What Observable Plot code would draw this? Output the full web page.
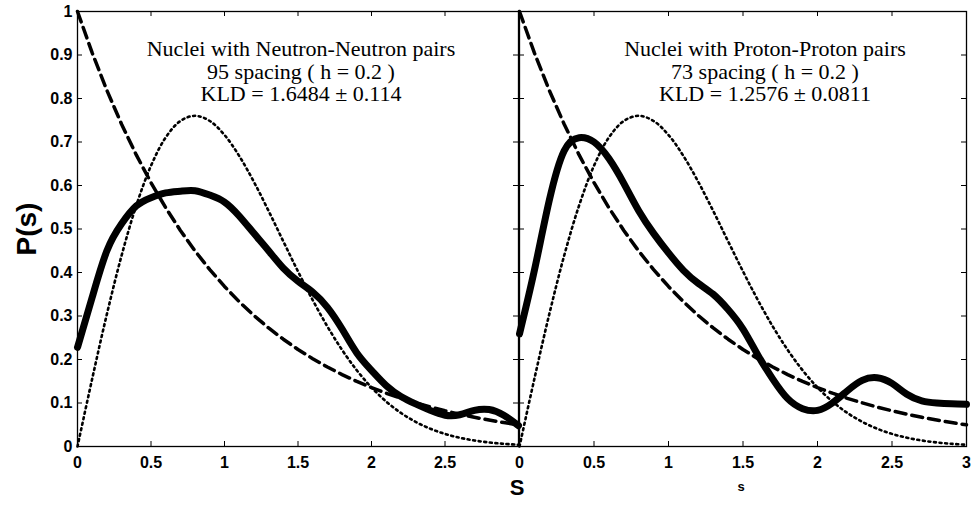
<!DOCTYPE html>
<html>
<head>
<meta charset="utf-8">
<script src="https://cdn.jsdelivr.net/npm/d3@7"></script>
<script src="https://cdn.jsdelivr.net/npm/@observablehq/plot@0.6"></script>
<style>
  body { margin: 0; background: white; }
  #wrap { position: relative; width: 976px; height: 505px; background: white; overflow: hidden; }
  #wrap svg { position: absolute; top: 0; }
  .lbl { position: absolute; font-family: "Liberation Sans", Arial, sans-serif; font-weight: bold; color: black; white-space: nowrap; line-height: 1; }
  .note { position: absolute; width: 420px; text-align: center; font-family: "Liberation Serif", "DejaVu Serif", "Times New Roman", Times, serif; font-size: 22px; line-height: 22.5px; color: black; white-space: nowrap; }
</style>
</head>
<body>
<div id="wrap"></div>
<script>
// spacing values s
const sGrid = [0,0.1,0.2,0.3,0.4,0.5,0.6,0.7,0.8,0.9,1.0,1.1,1.2,1.3,1.4,1.5,1.6,1.7,1.8,1.9,2.0,2.1,2.2,2.3,2.4,2.5,2.6,2.7,2.8,2.9,3.0];
// Poisson reference curve (dashed)
const poisson = [1.0000,0.9048,0.8187,0.7408,0.6703,0.6065,0.5488,0.4966,0.4493,0.4066,0.3679,0.3329,0.3012,0.2725,0.2466,0.2231,0.2019,0.1827,0.1653,0.1496,0.1353,0.1225,0.1108,0.1003,0.0907,0.0821,0.0743,0.0672,0.0608,0.0550,0.0498];
// Wigner reference curve (dotted)
const wigner = [0,0.1559,0.3044,0.4391,0.5541,0.6454,0.7104,0.7483,0.7602,0.7483,0.7162,0.6680,0.6083,0.5415,0.4717,0.4025,0.3365,0.2759,0.2220,0.1752,0.1358,0.1033,0.0772,0.0567,0.0409,0.0290,0.0202,0.0138,0.0093,0.0062,0.0040];
// Neutron-Neutron density (solid, left)
const nnDensity = [0.228,0.343,0.450,0.512,0.553,0.572,0.583,0.587,0.588,0.578,0.562,0.530,0.490,0.450,0.410,0.380,0.355,0.320,0.270,0.215,0.175,0.140,0.115,0.098,0.083,0.072,0.073,0.083,0.085,0.072,0.048];
// Proton-Proton density (solid, right)
const ppDensity = [0.259,0.405,0.566,0.680,0.710,0.700,0.662,0.605,0.542,0.490,0.445,0.405,0.375,0.350,0.315,0.270,0.210,0.155,0.110,0.087,0.083,0.100,0.128,0.152,0.158,0.145,0.120,0.105,0.100,0.098,0.097];

const xTicksLeft = [0,0.5,1,1.5,2,2.5];
const xTicksRight = [0,0.5,1,1.5,2,2.5,3];
const xTickMarks = [0,0.5,1,1.5,2,2.5,3];
const yTicks = [0,0.1,0.2,0.3,0.4,0.5,0.6,0.7,0.8,0.9,1];
const yTickLabels = ["0","0.1","0.2","0.3","0.4","0.5","0.6","0.7","0.8","0.9","1"];

const nnText = ["Nuclei with Neutron-Neutron pairs", "95 spacing ( h = 0.2 )", "KLD = 1.6484 \u00b1 0.114"];
const ppText = ["Nuclei with Proton-Proton pairs", "73 spacing ( h = 0.2 )", "KLD = 1.2576 \u00b1 0.0811"];

const yLabel = "P(s)";
const xLabelLeft = "S";
const xLabelRight = "s";

const H = 505, MT = 11, MB = 59;
const panelH = H - MT - MB;

function rows(vals) { return sGrid.map((s, i) => ({s, v: vals[i]})); }

function panel({density, xTicks, showY, width, marginLeft, marginRight}) {
  const panelW = width - marginLeft - marginRight;
  const marks = [
    Plot.line(rows(poisson), {x: "s", y: "v", stroke: "black", strokeWidth: 3.5, strokeDasharray: "11,6"}),
    Plot.line(rows(wigner), {x: "s", y: "v", stroke: "black", strokeWidth: 2.6, strokeDasharray: "2,3.6", curve: "catmull-rom"}),
    Plot.line(rows(density), {x: "s", y: "v", stroke: "black", strokeWidth: 7, curve: "natural", strokeLinejoin: "round"}),
    Plot.frame({stroke: "black", strokeWidth: 1.3}),
    Plot.tickY(yTicks, {y: d => d, insetRight: panelW - 5, stroke: "black"}),
    Plot.tickY(yTicks, {y: d => d, insetLeft: panelW - 5, stroke: "black"}),
    Plot.tickX(xTickMarks, {x: d => d, insetTop: panelH - 5, stroke: "black"}),
    Plot.tickX(xTickMarks, {x: d => d, insetBottom: panelH - 5, stroke: "black"}),
    Plot.axisX(xTicks, {anchor: "bottom", tickSize: 0, tickPadding: 10, tickFormat: d => String(d), fontSize: 16, fontWeight: "bold", label: null})
  ];
  if (showY) {
    marks.push(Plot.axisY(yTicks, {anchor: "left", tickSize: 0, tickPadding: 5, tickFormat: (d, i) => yTickLabels[i], fontSize: 16, fontWeight: "bold", label: null}));
  }
  return Plot.plot({
    width, height: H,
    marginTop: MT, marginBottom: MB, marginLeft, marginRight,
    x: {domain: [0, 3], label: null},
    y: {domain: [0, 1], label: null, axis: showY ? undefined : null},
    style: {background: "transparent", overflow: "visible", fontFamily: "Liberation Sans, Arial, sans-serif", fontSize: "16px", fontWeight: "bold", color: "black"},
    marks
  });
}

const wrap = document.getElementById("wrap");
const left = panel({density: nnDensity, xTicks: xTicksLeft, showY: true, width: 520, marginLeft: 77, marginRight: 2});
left.style.left = "0px";
wrap.appendChild(left);
const right = panel({density: ppDensity, xTicks: xTicksRight, showY: false, width: 476, marginLeft: 19, marginRight: 10});
right.style.left = "500px";
wrap.appendChild(right);

function addNote(lines, cx, top) {
  const d = document.createElement("div");
  d.className = "note";
  d.style.left = (cx - 210) + "px";
  d.style.top = top + "px";
  lines.forEach((t, i) => {
    const l = document.createElement("div");
    l.textContent = t;
    d.appendChild(l);
  });
  wrap.appendChild(d);
}
addNote(nnText, 301, 38);
addNote(ppText, 765, 38);

function addLabel(txt, x, y, size, rotate) {
  const d = document.createElement("div");
  d.className = "lbl";
  d.textContent = txt;
  d.style.left = x + "px";
  d.style.top = y + "px";
  d.style.fontSize = size + "px";
  d.style.transform = "translate(-50%,-50%)" + (rotate ? " rotate(-90deg)" : "");
  wrap.appendChild(d);
}
addLabel(yLabel, 27, 229, 28, true);
addLabel(xLabelLeft, 517, 488, 22, false);
addLabel(xLabelRight, 741, 486, 13, false);
</script>
</body>
</html>
